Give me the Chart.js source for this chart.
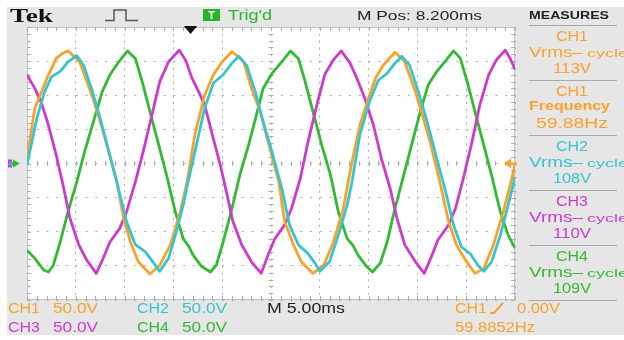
<!DOCTYPE html>
<html>
<head>
<meta charset="utf-8">
<script src="https://cdn.jsdelivr.net/npm/chart.js@4.4.1/dist/chart.umd.min.js"></script>
<style>
  html, body { margin: 0; padding: 0; background: #fff; }
  #scope { display: block; }
</style>
</head>
<body>
<canvas id="scope" width="624" height="340"></canvas>
<script>
// time in ms (5 ms/div, 10 div), voltage in V (50 V/div, 8 div)
const ch1Time = [0, 0.8, 2.2, 3.0, 3.7, 4.2, 5.4, 6.4, 7.3, 8.2, 9.2, 9.9, 10.6, 11.4, 12.6, 13.6, 14.7, 15.7, 16.4,
  17.2, 18.2, 19.1, 20.0, 21.0, 22.2, 23.0, 23.9, 24.7, 25.8, 26.4, 27.3, 28.1, 29.3, 30.4, 31.4, 32.4, 33.2,
  34.1, 35.0, 35.7, 36.5, 37.7, 38.7, 39.8, 40.4, 41.3, 42.3, 43.2, 44.0, 44.9, 45.9, 46.8, 47.8, 48.8, 49.5, 50];
const ch1Volts = [8, 81, 130, 154, 162, 165, 149, 110, 71, 27, -27, -80, -115, -144, -162, -149, -119, -71, -27,
  42, 100, 130, 149, 164, 149, 110, 76, 32, -27, -85, -119, -144, -161, -149, -115, -66, -5,
  56, 96, 125, 144, 163, 149, 105, 76, 32, -27, -85, -119, -141, -161, -154, -119, -71, -32, -2];

const ch2Time = [0, 1.0, 1.8, 2.5, 3.4, 4.2, 5.1, 5.8, 6.6, 7.5, 8.3, 9.2, 10.2, 11.1, 12.1, 12.9, 13.6, 14.5, 15.3, 16.0, 16.5,
  17.2, 18.2, 19.1, 20.1, 21.0, 21.7, 22.5, 23.4, 24.2, 25.1, 26.1, 26.9, 27.8, 28.8, 29.5, 30.0, 31.0, 31.9, 32.8, 33.3,
  34.1, 35.1, 36.0, 36.9, 37.7, 38.4, 39.2, 40.1, 41.0, 41.8, 42.8, 43.7, 44.5, 45.4, 46.2, 46.8, 47.6, 48.5, 49.3, 50];
const ch2Volts = [-2, 66, 105, 127, 135, 149, 158, 144, 110, 66, 22, -27, -85, -119, -129, -144, -158, -139, -100, -61, -27,
  17, 81, 118, 130, 147, 157, 144, 105, 61, 17, -36, -90, -119, -132, -146, -158, -144, -105, -61, -27,
  42, 91, 122, 132, 147, 157, 144, 105, 61, 17, -36, -90, -122, -132, -149, -158, -144, -105, -61, -20];

const ch3Time = [0, 0.8, 1.5, 2.2, 3.0, 3.7, 4.4, 5.3, 6.1, 7.1, 7.8, 8.5, 9.5, 10.2, 11.1, 11.9, 12.8, 13.6, 14.5, 15.6,
  16.3, 16.9, 17.6, 18.2, 18.9, 19.8, 20.5, 21.1, 22.0, 23.0, 24.0, 24.7, 25.4, 26.4, 27.1, 28.0, 28.8, 29.7, 30.5, 31.4, 32.2,
  33.1, 33.8, 34.6, 35.5, 36.3, 37.2, 37.9, 38.7, 39.8, 40.7, 41.5, 42.1, 43.2, 43.9, 44.7, 45.6, 46.4, 47.3, 48.1, 49.0, 49.5, 50];
const ch3Volts = [130, 110, 88, 56, 12, -32, -80, -119, -141, -161, -139, -115, -95, -71, -27, 17, 71, 120, 149, 166,
  150, 125, 105, 86, 47, -2, -46, -85, -119, -144, -161, -134, -110, -90, -66, -22, 32, 86, 130, 152, 165,
  147, 125, 96, 56, 8, -36, -80, -119, -144, -161, -134, -112, -90, -66, -22, 32, 86, 130, 152, 166, 154, 138];

const ch4Time = [0, 0.8, 1.7, 2.2, 2.7, 3.4, 4.2, 5.1, 5.9, 6.8, 7.7, 8.5, 9.4, 10.3, 11.1, 11.8, 12.6, 13.5, 14.3, 15.2, 16.0, 16.6,
  17.0, 17.9, 18.8, 19.4, 20.1, 21.0, 21.8, 22.7, 23.5, 24.2, 25.1, 26.1, 27.0, 27.8, 28.5, 29.3, 30.2, 31.1, 31.9, 32.8, 33.4,
  33.9, 34.8, 35.4, 36.2, 36.9, 37.7, 38.6, 39.4, 40.3, 41.1, 42.0, 42.8, 43.7, 44.4, 45.1, 45.9, 46.8, 47.6, 48.5, 49.3, 50];
const ch4Volts = [-127, -139, -156, -159, -149, -115, -71, -27, 17, 61, 105, 130, 149, 165, 154, 120, 76, 27, -17, -71, -110, -122,
  -134, -151, -159, -149, -115, -66, -17, 27, 71, 110, 132, 149, 165, 154, 120, 76, 27, -17, -71, -110, -120,
  -134, -151, -159, -146, -115, -66, -17, 27, 76, 115, 135, 149, 165, 154, 120, 76, 27, -17, -71, -105, -124];

const channelNames = ["CH1", "CH2", "CH3", "CH4"];
const voltsPerDiv = ["50.0V", "50.0V", "50.0V", "50.0V"];
const measureRows = [
  ["CH1", "Vrms", "113V"],
  ["CH1", "Frequency", "59.88Hz"],
  ["CH2", "Vrms", "108V"],
  ["CH3", "Vrms", "110V"],
  ["CH4", "Vrms", "109V"],
];
const timeBase = "M 5.00ms";
const horizPos = "M Pos: 8.200ms";
const trigLevel = "0.00V";
const trigFreq = "59.8852Hz";

const ORANGE = "#f8a22c", CYAN = "#38c4cf", MAGENTA = "#cc3ccc", GREEN = "#33b933";
const chanColor = { CH1: ORANGE, CH2: CYAN, CH3: MAGENTA, CH4: GREEN };
const SANS = "'Liberation Sans', Arial, sans-serif";

function pts(ts, vs) {
  return ts.map((t, i) => ({ x: t, y: vs[i] }));
}

// text squeezed/stretched between x0 and x1, centred vertically on cy (cap height)
function label(ctx, str, x0, x1, cy, size, color, weight, family) {
  ctx.save();
  ctx.font = (weight || "normal") + " " + size + "px " + (family || SANS);
  ctx.fillStyle = color;
  ctx.textBaseline = "alphabetic";
  const w = ctx.measureText(str).width;
  ctx.translate(x0, cy + size * 0.36);
  ctx.scale((x1 - x0) / w, 1);
  ctx.fillText(str, 0, 0);
  ctx.restore();
}

const scopeFrame = {
  id: "scopeFrame",
  beforeDraw(chart) {
    const { ctx, chartArea: a } = chart;
    ctx.save();
    ctx.fillStyle = "#ffffff";
    ctx.fillRect(0, 0, chart.width, chart.height);
    ctx.fillStyle = "#e6e6e6";
    ctx.fillRect(7, 7, chart.width - 7, 328);
    ctx.fillStyle = "#ffffff";
    ctx.fillRect(a.left, a.top, a.right - a.left, a.bottom - a.top);
    ctx.restore();
  },
  beforeDatasetsDraw(chart) {
    const { ctx, chartArea: a, scales: { x, y } } = chart;
    const cx = x.getPixelForValue(25), cy = y.getPixelForValue(0);
    ctx.save();
    ctx.strokeStyle = "#c4c4c4";
    ctx.lineWidth = 1;
    ctx.strokeRect(a.left + 0.5, a.top + 0.5, a.right - a.left - 1, a.bottom - a.top - 1);
    ctx.strokeStyle = "#adadad";
    ctx.beginPath();
    for (let t = 0; t <= 50; t += 1) {
      const px = Math.round(x.getPixelForValue(t)) + 0.5;
      ctx.moveTo(px, a.top); ctx.lineTo(px, a.top + 4);
      ctx.moveTo(px, a.bottom - 4); ctx.lineTo(px, a.bottom);
      ctx.moveTo(px, cy - 2.5); ctx.lineTo(px, cy + 2.5);
    }
    for (let v = -200; v <= 200; v += 10) {
      const py = Math.round(y.getPixelForValue(v)) + 0.5;
      ctx.moveTo(a.left, py); ctx.lineTo(a.left + 4, py);
      ctx.moveTo(a.right - 4, py); ctx.lineTo(a.right, py);
      ctx.moveTo(cx - 2.5, py); ctx.lineTo(cx + 2.5, py);
    }
    ctx.stroke();
    ctx.restore();
  },
  afterDraw(chart) {
    const { ctx, chartArea: a, scales: { x, y } } = chart;
    const gy = y.getPixelForValue(0);
    ctx.save();

    // header
    label(ctx, "Tek", 10, 53, 16, 18, "#111", "bold", "'Liberation Serif', serif");
    ctx.strokeStyle = "#555";
    ctx.lineWidth = 1.5;
    ctx.beginPath();
    ctx.moveTo(105, 20.5); ctx.lineTo(114, 20.5); ctx.lineTo(114, 10); ctx.lineTo(126, 10);
    ctx.lineTo(126, 20.5); ctx.lineTo(138, 20.5);
    ctx.stroke();
    ctx.fillStyle = "#27b327";
    ctx.fillRect(203, 9, 17, 12);
    label(ctx, "T", 208, 215, 15, 11, "#fff", "bold");
    label(ctx, "Trig'd", 228, 272, 15, 14, "#2db52d");
    label(ctx, horizPos, 357, 482, 15, 13, "#222");
    label(ctx, "MEASURES", 529, 609, 15, 11, "#222", "bold");

    // trigger position marker
    const tx = 190.5;
    ctx.fillStyle = "#111";
    ctx.fillRect(tx - 6, a.top - 1, 12, 2);
    ctx.beginPath();
    ctx.moveTo(tx - 5, a.top + 1); ctx.lineTo(tx + 5, a.top + 1); ctx.lineTo(tx, a.top + 7);
    ctx.closePath(); ctx.fill();

    // ground markers (left) and trigger level (right)
    ctx.fillStyle = MAGENTA;
    ctx.fillRect(8, gy - 4, 4, 8);
    ctx.fillStyle = CYAN;
    ctx.fillRect(9, gy - 1, 4, 3);
    ctx.fillStyle = GREEN;
    ctx.beginPath();
    ctx.moveTo(13, gy - 4); ctx.lineTo(20, gy); ctx.lineTo(13, gy + 4); ctx.closePath(); ctx.fill();
    ctx.fillRect(12, gy - 1, 4, 2);
    ctx.fillStyle = ORANGE;
    ctx.beginPath();
    ctx.moveTo(504, gy); ctx.lineTo(511, gy - 5); ctx.lineTo(511, gy + 5); ctx.closePath(); ctx.fill();
    ctx.fillRect(510, gy - 1, 7, 2);

    // measurement panel
    ctx.strokeStyle = "#a8a8a8";
    ctx.lineWidth = 1;
    ctx.beginPath();
    for (let i = 0; i <= measureRows.length; i++) {
      const sy = 25 + i * 55 + 0.5;
      ctx.moveTo(529, sy); ctx.lineTo(617, sy);
    }
    ctx.stroke();
    measureRows.forEach(([ch, kind, val], i) => {
      const top = 25 + i * 55;
      const col = chanColor[ch];
      label(ctx, ch, 556, 588, top + 11, 14, col);
      if (kind === "Vrms") {
        label(ctx, "Vrms\u2013", 529, 583, top + 27, 14, col);
        label(ctx, "cycle", 587, 628, top + 28, 11, col);
      } else {
        label(ctx, kind, 529, 610, top + 26, 12, col, "bold");
      }
      const w = val.length > 4 ? 72 : 38;
      label(ctx, val, 572 - w / 2, 572 + w / 2, top + 43, 14, col);
    });

    // footer
    const rows = [[0, 1], [2, 3]];
    rows.forEach((pair, r) => {
      const cyy = r === 0 ? 308 : 327;
      pair.forEach((ci, k) => {
        const name = channelNames[ci];
        const x0 = k === 0 ? 8 : 137;
        label(ctx, name, x0, x0 + 32, cyy, 14, chanColor[name]);
        label(ctx, voltsPerDiv[ci], x0 + 45, x0 + 90, cyy, 14, chanColor[name]);
      });
    });
    label(ctx, timeBase, 267, 345, 308, 14, "#222");
    label(ctx, "CH1", 455, 487, 308, 14, ORANGE);
    ctx.strokeStyle = ORANGE;
    ctx.lineWidth = 2;
    ctx.beginPath();
    ctx.moveTo(490, 313); ctx.lineTo(494, 313); ctx.lineTo(503, 303);
    ctx.stroke();
    label(ctx, trigLevel, 517, 560, 308, 14, ORANGE);
    label(ctx, trigFreq, 455, 535, 327, 14, ORANGE);

    ctx.restore();
  },
};

const traceStyle = { borderWidth: 2.8, pointRadius: 0, tension: 0, borderJoinStyle: "round", fill: false };

new Chart(document.getElementById("scope"), {
  type: "line",
  data: {
    datasets: [
      { label: "CH2", data: pts(ch2Time, ch2Volts), borderColor: CYAN, ...traceStyle },
      { label: "CH1", data: pts(ch1Time, ch1Volts), borderColor: ORANGE, ...traceStyle },
      { label: "CH3", data: pts(ch3Time, ch3Volts), borderColor: MAGENTA, ...traceStyle },
      { label: "CH4", data: pts(ch4Time, ch4Volts), borderColor: GREEN, ...traceStyle },
    ],
  },
  options: {
    responsive: false,
    animation: false,
    devicePixelRatio: 1,
    layout: { padding: { left: 27, right: 109, top: 27, bottom: 40 } },
    plugins: { legend: { display: false }, tooltip: { enabled: false } },
    scales: {
      x: {
        type: "linear",
        min: 0,
        max: 50,
        ticks: { display: false, stepSize: 5 },
        grid: { color: "#acacac", lineWidth: 1, drawTicks: false },
        border: { display: false, dash: [2, 4.82] },
      },
      y: {
        type: "linear",
        min: -200,
        max: 200,
        ticks: { display: false, stepSize: 50 },
        grid: { color: "#acacac", lineWidth: 1, drawTicks: false },
        border: { display: false, dash: [2, 7.76] },
      },
    },
  },
  plugins: [scopeFrame],
});
</script>
</body>
</html>
